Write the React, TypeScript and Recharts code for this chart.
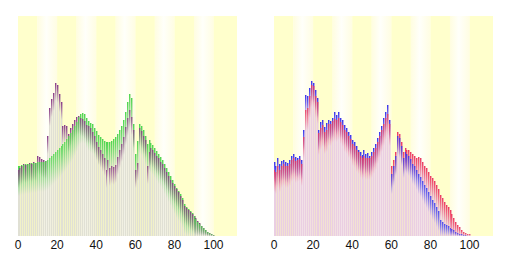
import React from 'react';
import { ComposedChart, Bar, XAxis, YAxis, ReferenceArea } from 'recharts';

const AGE_TICKS = [0, 20, 40, 60, 80, 100];
const BAND_EDGES = [0, 10, 20, 30, 40, 50, 60, 70, 80, 90, 100, 112];

// Left panel: this municipality (purple) vs. national (green)
const cityPop = [
  66, 68, 70, 72, 71, 72, 73, 72, 74, 73,
  80, 79, 77, 76, 75, 100, 128, 137, 143, 153,
  151, 142, 134, 110, 111, 110, 102, 108, 112, 116,
  119, 120, 118, 117, 115, 111, 110, 108, 104, 100,
  94, 89, 86, 82, 78, 66, 76, 68, 70, 69,
  71, 79, 86, 92, 99, 109, 118, 126, 119, 106,
  66, 73, 108, 105, 100, 96, 70, 84, 88, 86,
  83, 80, 78, 74, 72, 68, 64, 60, 56, 53,
  50, 47, 44, 40, 36, 30, 28, 26, 24, 22,
  20, 18, 15, 13, 10, 8, 6, 4, 3, 2,
  1,
];
const nationalPop = [
  70, 70, 71, 71, 72, 72, 72, 73, 73, 73,
  74, 74, 74, 74, 75, 76, 78, 80, 82, 84,
  86, 88, 90, 92, 94, 97, 100, 103, 106, 110,
  114, 119, 122, 123, 122, 118, 115, 113, 112, 108,
  105, 101, 99, 97, 95, 94, 94, 94, 95, 97,
  99, 102, 106, 110, 116, 124, 134, 142, 138, 112,
  82, 95, 112, 110, 106, 100, 92, 96, 93, 91,
  88, 85, 82, 79, 76, 72, 68, 64, 60, 56,
  52, 48, 45, 42, 38, 32, 29, 27, 25, 23,
  20, 17, 14, 12, 10, 8, 6, 4, 3, 2,
  1,
];

// Right panel: male (blue) vs. female (red)
const malePop = [
  74, 70, 78, 72, 75, 76, 74, 73, 76, 80,
  82, 79, 78, 80, 76, 106, 141, 140, 148, 155,
  153, 146, 138, 106, 114, 116, 109, 113, 116, 115,
  118, 124, 121, 124, 118, 116, 111, 108, 104, 101,
  96, 94, 90, 86, 84, 81, 86, 82, 83, 80,
  84, 88, 92, 98, 104, 110, 118, 124, 131, 116,
  62, 70, 80, 100, 98, 90, 78, 84, 82, 80,
  77, 72, 70, 66, 62, 59, 55, 51, 48, 44,
  40, 36, 33, 29, 25, 16, 14, 12, 11, 10,
  8, 7, 6, 4, 3, 2, 2, 1, 1, 0,
  0,
];
const femalePop = [
  66, 64, 70, 66, 70, 72, 70, 70, 72, 76,
  78, 75, 76, 77, 72, 99, 126, 128, 140, 151,
  150, 140, 134, 103, 108, 111, 104, 106, 112, 112,
  115, 117, 116, 118, 114, 111, 106, 104, 100, 97,
  92, 90, 86, 84, 80, 78, 80, 78, 78, 78,
  80, 84, 88, 94, 100, 106, 112, 118, 122, 112,
  70, 76, 84, 104, 102, 94, 84, 88, 86, 86,
  84, 82, 80, 78, 79, 78, 74, 70, 68, 64,
  60, 58, 55, 51, 47, 41, 38, 34, 31, 29,
  26, 22, 18, 14, 11, 9, 6, 4, 3, 2,
  2,
];

type Row = { age: number; a: number; b: number; top: number };

const buildRows = (sa: number[], sb: number[]): Row[] =>
  sa.map((v, i) => ({ age: i, a: v, b: sb[i], top: Math.max(v, sb[i]) }));

const leftRows = buildRows(cityPop, nationalPop);
const rightRows = buildRows(malePop, femalePop);

function makeShape(id: string, colFill: string, gapFill: string, gapOpacity: number, capLens: [number, number]) {
  return (props: any) => {
    const { x, y, width, height, payload } = props;
    if (height == null || height <= 0 || !payload || !payload.top) return <g />;
    const base = y + height;
    const k = height / payload.top;
    const cx = Math.round(x + width / 2);
    const ya = base - payload.a * k;
    const yb = base - payload.b * k;
    const caps = [
      { yy: ya, len: Math.min(capLens[0], base - ya), grad: `${id}-a` },
      { yy: yb, len: Math.min(capLens[1], base - yb), grad: `${id}-b` },
    ].sort((p, q) => p.yy - q.yy);
    return (
      <g>
        <rect x={cx + 1} y={y} width={1} height={height} fill={gapFill} fillOpacity={gapOpacity} />
        <rect x={cx} y={y} width={1} height={height} fill={colFill} />
        {caps.map((c, i) =>
          c.len > 0 ? (
            <g key={i}>
              <rect x={cx + 1} y={c.yy} width={1} height={c.len} fill={`url(#${c.grad})`} fillOpacity={0.35} />
              <rect x={cx} y={c.yy} width={1} height={c.len} fill={`url(#${c.grad})`} fillOpacity={i === 1 ? 0.85 : 1} />
            </g>
          ) : null
        )}
      </g>
    );
  };
}

type PanelProps = {
  id: string;
  rows: Row[];
  colorA: string;
  colorB: string;
  colFill: string;
  gapFill: string;
  gapOpacity: number;
  capLens: [number, number];
};

function Panel({ id, rows, colorA, colorB, colFill, gapFill, gapOpacity, capLens }: PanelProps) {
  const bands = BAND_EDGES.slice(0, -1).map((s, i) => ({ x1: s, x2: BAND_EDGES[i + 1], light: i % 2 === 1 }));
  return (
    <ComposedChart
      width={256}
      height={256}
      data={rows}
      margin={{ top: 16, right: 19, bottom: 0, left: 18 }}
      barSize={1}
    >
      <defs>
        <linearGradient id={`${id}-band`} x1="0" y1="0" x2="1" y2="0">
          <stop offset="0" stopColor="#fffde0" />
          <stop offset="0.45" stopColor="#fffffa" />
          <stop offset="1" stopColor="#fffde2" />
        </linearGradient>
        <linearGradient id={`${id}-a`} x1="0" y1="0" x2="0" y2="1">
          <stop offset="0" stopColor={colorA} stopOpacity={1} />
          <stop offset="0.3" stopColor={colorA} stopOpacity={0.75} />
          <stop offset="1" stopColor={colorA} stopOpacity={0} />
        </linearGradient>
        <linearGradient id={`${id}-b`} x1="0" y1="0" x2="0" y2="1">
          <stop offset="0" stopColor={colorB} stopOpacity={1} />
          <stop offset="0.3" stopColor={colorB} stopOpacity={0.75} />
          <stop offset="1" stopColor={colorB} stopOpacity={0} />
        </linearGradient>
      </defs>
      <XAxis
        type="number"
        dataKey="age"
        domain={[0, 112]}
        ticks={AGE_TICKS}
        interval={0}
        axisLine={false}
        tickLine={false}
        tickSize={0}
        tickMargin={4}
        height={20}
        tick={{ fill: '#111', fontSize: 12, fontFamily: 'Liberation Sans, Arial, sans-serif' }}
      />
      <YAxis type="number" domain={[0, 220]} hide allowDataOverflow />
      {bands.map((b) => (
        <ReferenceArea
          key={b.x1}
          x1={b.x1}
          x2={b.x2}
          fill={b.light ? `url(#${id}-band)` : '#ffffcc'}
          fillOpacity={1}
          stroke="none"
          ifOverflow="hidden"
        />
      ))}
      <Bar dataKey="top" isAnimationActive={false} shape={makeShape(id, colFill, gapFill, gapOpacity, capLens)} />
    </ComposedChart>
  );
}

export default function App() {
  return (
    <div style={{ position: 'fixed', left: 0, top: 0, width: 512, height: 256, display: 'flex', background: '#fff' }}>
      <Panel
        id="left"
        rows={leftRows}
        colorA="#8a3a88"
        colorB="#4cd84c"
        colFill="#e0e0d4"
        gapFill="#d8d8c0"
        gapOpacity={0.35}
        capLens={[18, 30]}
      />
      <Panel
        id="right"
        rows={rightRows}
        colorA="#3434f0"
        colorB="#f03a5a"
        colFill="#eacee2"
        gapFill="#e8c8d8"
        gapOpacity={0.55}
        capLens={[20, 22]}
      />
    </div>
  );
}
